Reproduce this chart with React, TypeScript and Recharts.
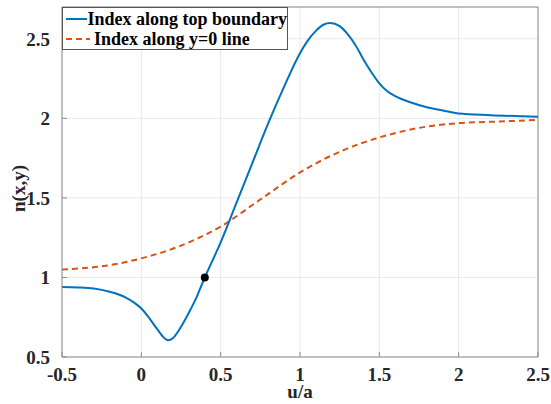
import React from 'react';
import {
  ComposedChart,
  Line,
  Scatter,
  XAxis,
  YAxis,
  CartesianGrid,
  ReferenceLine,
} from 'recharts';

// u/a positions and index along the top boundary
const topU = [-0.5, -0.4, -0.3, -0.2, -0.1, -0.05, 0, 0.05, 0.1, 0.15, 0.17, 0.2, 0.25, 0.3, 0.35, 0.4, 0.5, 0.6, 0.7, 0.8, 0.9, 1.0, 1.05, 1.1, 1.15, 1.19, 1.25, 1.3, 1.35, 1.4, 1.45, 1.5, 1.55, 1.6, 1.7, 1.8, 1.9, 2.0, 2.2, 2.5];
const topN = [0.94, 0.937, 0.93, 0.91, 0.875, 0.845, 0.805, 0.745, 0.675, 0.615, 0.605, 0.62, 0.69, 0.78, 0.88, 1.0, 1.22, 1.47, 1.72, 1.97, 2.2, 2.41, 2.49, 2.55, 2.59, 2.6, 2.58, 2.53, 2.46, 2.37, 2.29, 2.22, 2.17, 2.14, 2.1, 2.07, 2.05, 2.03, 2.02, 2.01];

// index along the y=0 line
const midU = [-0.5, -0.25, 0, 0.25, 0.5, 0.75, 1.0, 1.25, 1.5, 1.75, 2.0, 2.25, 2.5];
const midN = [1.05, 1.07, 1.12, 1.2, 1.32, 1.49, 1.66, 1.79, 1.88, 1.94, 1.97, 1.98, 1.99];

const markerU = [0.4];
const markerN = [1.0];

const xTicks = [-0.5, 0, 0.5, 1, 1.5, 2, 2.5];
const yTicks = [0.5, 1, 1.5, 2, 2.5];

const topData = topU.map((u, i) => ({ u, n: topN[i] }));
const midData = midU.map((u, i) => ({ u, n: midN[i] }));
const markerData = markerU.map((u, i) => ({ u, n: markerN[i] }));

const font = "'Times New Roman', 'Liberation Serif', 'DejaVu Serif', serif";
const tickStyle = { fill: '#262626', fontSize: 19, fontWeight: 700, fontFamily: font };
const axisColor = '#8c8c8c';

const LegendBox = () => (
  <div
    style={{
      position: 'absolute',
      left: 62,
      top: 7,
      width: 226,
      height: 43,
      border: '1px solid #555',
      background: '#fff',
      boxSizing: 'border-box',
      fontFamily: font,
      fontWeight: 700,
      fontSize: 18,
      color: '#000',
    }}
  >
    {[
      { label: 'Index along top boundary', color: '#0072BD', dash: false },
      { label: 'Index along y=0 line', color: '#D95319', dash: true },
    ].map((item, i) => (
      <div key={i} style={{ display: 'flex', alignItems: 'center', height: 20, marginTop: i === 0 ? 1 : 0, whiteSpace: 'nowrap' }}>
        <svg width={28} height={10} style={{ marginLeft: 3 }}>
          <line
            x1={0}
            y1={5}
            x2={24}
            y2={5}
            stroke={item.color}
            strokeWidth={2}
            strokeDasharray={item.dash ? '6 4' : undefined}
          />
        </svg>
        <span style={{ lineHeight: '20px' }}>{item.label}</span>
      </div>
    ))}
  </div>
);

export default function App() {
  return (
    <div style={{ position: 'absolute', left: 0, top: 0, width: 551, height: 404, background: '#fff' }}>
      <ComposedChart width={551} height={404} margin={{ top: 7, right: 13, left: 0, bottom: 0 }}>
        <CartesianGrid stroke="#e8e8e8" horizontal vertical />
        <XAxis
          dataKey="u"
          type="number"
          domain={[-0.5, 2.5]}
          ticks={xTicks}
          allowDataOverflow
          height={47}
          tick={tickStyle}
          tickLine={{ stroke: axisColor }}
          tickSize={-5}
          tickMargin={16}
          axisLine={{ stroke: axisColor }}
          label={{ value: 'u/a', position: 'insideBottom', offset: 6, style: tickStyle }}
        />
        <YAxis
          dataKey="n"
          type="number"
          domain={[0.5, 2.7]}
          ticks={yTicks}
          allowDataOverflow
          width={62}
          tick={tickStyle}
          tickLine={{ stroke: axisColor }}
          tickSize={-5}
          tickMargin={17}
          axisLine={{ stroke: axisColor }}
          label={{ value: 'n(x,y)', angle: -90, position: 'insideLeft', offset: 18, dy: 30, style: tickStyle }}
        />
        <ReferenceLine y={2.7} stroke={axisColor} />
        <ReferenceLine x={2.5} stroke={axisColor} />
        <Line
          data={midData}
          dataKey="n"
          type="monotone"
          stroke="#D95319"
          strokeWidth={2}
          strokeDasharray="6 4"
          dot={false}
          isAnimationActive={false}
        />
        <Line
          data={topData}
          dataKey="n"
          type="monotone"
          stroke="#0072BD"
          strokeWidth={2}
          dot={false}
          isAnimationActive={false}
        />
        <Scatter data={markerData} dataKey="n" fill="#000" shape={(p: any) => <circle cx={p.cx} cy={p.cy} r={4} fill="#000" />} isAnimationActive={false} />
      </ComposedChart>
      <LegendBox />
    </div>
  );
}
